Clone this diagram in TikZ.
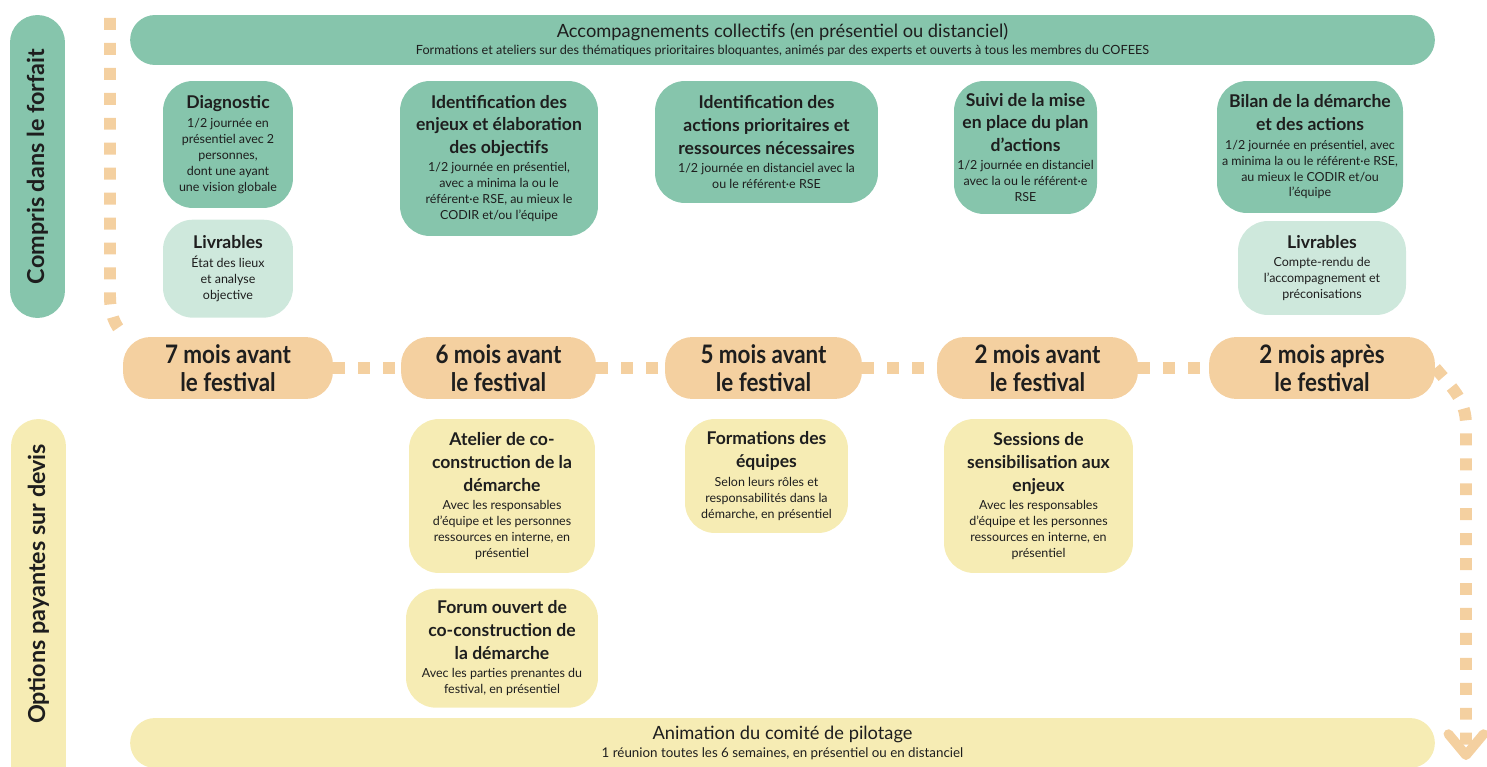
\documentclass[tikz,border=0pt]{standalone}
\usepackage{fontspec}
\setmainfont{Lato}
\newfontfamily\monthfont[FakeStretch=0.88]{Lato}
\usetikzlibrary{positioning,arrows.meta}
\setlength{\parindent}{0pt}

\definecolor{forfait}{HTML}{86C5AC}
\definecolor{livr}{HTML}{CEE8DC}
\definecolor{mois}{HTML}{F4D0A0}
\definecolor{devis}{HTML}{F6ECB4}
\definecolor{ink}{HTML}{1E1E1E}

\newcommand{\boxtxt}[2]{{\fontsize{10}{13}\selectfont\bfseries #1\par}\vspace{1.3pt}{\fontsize{7.1}{9.1}\selectfont #2\par}}
\newcommand{\bandtxt}[3]{{\fontsize{10.4}{12}\selectfont #1\par}\vspace{1.5pt}{\fontsize{#3}{8.5}\selectfont #2\par}}

\begin{document}
\begin{tikzpicture}[x=0.02cm,y=-0.02cm,
    base/.style={rounded corners=0.6cm, align=flush center, inner sep=0pt, text=ink},
    plan/.style={base, fill=forfait},
    deliv/.style={base, fill=livr},
    option/.style={base, fill=devis},
    dims/.style 2 args={minimum width=#1, text width=#1, minimum height=#2},
    period/.style={base, fill=mois, minimum height=1.24cm, rounded corners=0.55cm,
        font=\monthfont\bfseries\fontsize{14.5}{16}\selectfont},
    timeline/.style={draw=mois, line width=6.8pt, dash pattern=on 6.8pt off 7.4pt},
    sidebar/.style={rotate=90, minimum height=1.1cm, rounded corners=0.55cm, inner sep=0pt,
        text=ink, font=\bfseries\fontsize{13.3}{15}\selectfont},
    band/.style={dims={26.1cm}{1cm}, rounded corners=0.5cm, align=flush center, inner sep=0pt, text=ink}]
  \useasboundingbox (0,0) rectangle (1487,767);
  \clip (0,0) rectangle (1487,767);

  % side labels
  \node[sidebar, fill=forfait, minimum width=6.06cm] (forfait) at (37.5,166.5) {Compris dans le forfait};
  \node[sidebar, fill=devis, minimum width=7.62cm] (devisbar) at (38.5,609.5) {};
  \node[rotate=90, text=ink, font=\bfseries\fontsize{13.3}{15}\selectfont] (devislabel) at (38.5,584) {Options payantes sur devis};

  % bands
  \node[band, fill=forfait] (collectif) at (782.5,40) {\bandtxt{Accompagnements collectifs (en présentiel ou distanciel)}{Formations et ateliers sur des thématiques prioritaires bloquantes, animés par des experts et ouverts à tous les membres du COFEES}{7.2}};
  \node[band, fill=devis] (copil) at (782.5,743) {\bandtxt{Animation du comité de pilotage}{1 réunion toutes les 6 semaines, en présentiel ou en distanciel}{7.6}};

  % included steps
  \node[plan, dims={2.6cm}{2.54cm}] (diag) at (228,144.5) {\boxtxt{Diagnostic}{1/2 journée en\\présentiel avec 2\\personnes,\\dont une ayant\\une vision globale}};
  \node[deliv, dims={2.6cm}{1.96cm}, below=0.22cm of diag] (livA) {\boxtxt{Livrables}{État des lieux\\et analyse\\objective}};
  \node[plan, dims={3.96cm}{3.1cm}] (enjeux) at (499,158.5) {\boxtxt{Identification des\\enjeux et élaboration\\des objectifs}{1/2 journée en présentiel,\\avec a minima la ou le\\référent·e RSE, au mieux le\\CODIR et/ou l’équipe}};
  \node[plan, dims={4.46cm}{2.44cm}] (actions) at (766.5,142) {\boxtxt{Identification des\\actions prioritaires et\\ressources nécessaires}{1/2 journée en distanciel avec la\\ou le référent·e RSE}};
  \node[plan, dims={2.86cm}{2.66cm}] (suivi) at (1025.5,147.5) {\boxtxt{Suivi de la mise\\en place du plan\\d’actions}{1/2 journée en distanciel\\avec la ou le référent·e\\RSE}};
  \node[plan, dims={3.72cm}{2.64cm}] (bilan) at (1310,147) {\boxtxt{Bilan de la démarche\\et des actions}{1/2 journée en présentiel, avec\\a minima la ou le référent·e RSE,\\au mieux le CODIR et/ou\\l’équipe}};
  \node[deliv, dims={3.36cm}{1.88cm}] (livB) at (1322,268) {\boxtxt{Livrables}{Compte-rendu de\\l’accompagnement et\\préconisations}};

  % timeline
  \node[period, minimum width=4.2cm] (m7) at (228,368) {7 mois avant\\le festival};
  \node[period, minimum width=3.9cm] (m6) at (498.5,368) {6 mois avant\\le festival};
  \node[period, minimum width=3.94cm] (m5) at (763.5,368) {5 mois avant\\le festival};
  \node[period, minimum width=4.02cm] (m2b) at (1037.5,368) {2 mois avant\\le festival};
  \node[period, minimum width=4.52cm] (m2a) at (1322,368) {2 mois après\\le festival};

  % paid options
  \node[option, dims={3.72cm}{3.08cm}] (atelier) at (502,496) {\boxtxt{Atelier de co-\\construction de la\\démarche}{Avec les responsables\\d’équipe et les personnes\\ressources en interne, en\\présentiel}};
  \node[option, dims={3.84cm}{2.38cm}, below=0.3cm of atelier] (forum) {\boxtxt{Forum ouvert de\\co-construction de\\la démarche}{Avec les parties prenantes du\\festival, en présentiel}};
  \node[option, dims={3.26cm}{2.28cm}] (formations) at (766.5,476) {\boxtxt{Formations des\\équipes}{Selon leurs rôles et\\responsabilités dans la\\démarche, en présentiel}};
  \node[option, dims={3.78cm}{3.08cm}] (sessions) at (1038.5,496) {\boxtxt{Sessions de\\sensibilisation aux\\enjeux}{Avec les responsables\\d’équipe et les personnes\\ressources en interne, en\\présentiel}};

  \coordinate (start) at (110,18);
  \coordinate (bendA) at (110,295);
  \coordinate (bendB) at (1466,425);
  \coordinate (finish) at (1466,760);

  \draw[timeline] (start) -- (bendA) to[out=-90,in=135] (m7.163);
  \draw[timeline] (m7) -- (m6);
  \draw[timeline] (m6) -- (m5);
  \draw[timeline] (m5) -- (m2b);
  \draw[timeline] (m2b) -- (m2a);
  \draw[timeline, -{Straight Barb[length=12pt, width=20pt, line width=5.5pt, round]}] (m2a.east) to[out=-50,in=90] (bendB) -- (finish);
\end{tikzpicture}
\end{document}
